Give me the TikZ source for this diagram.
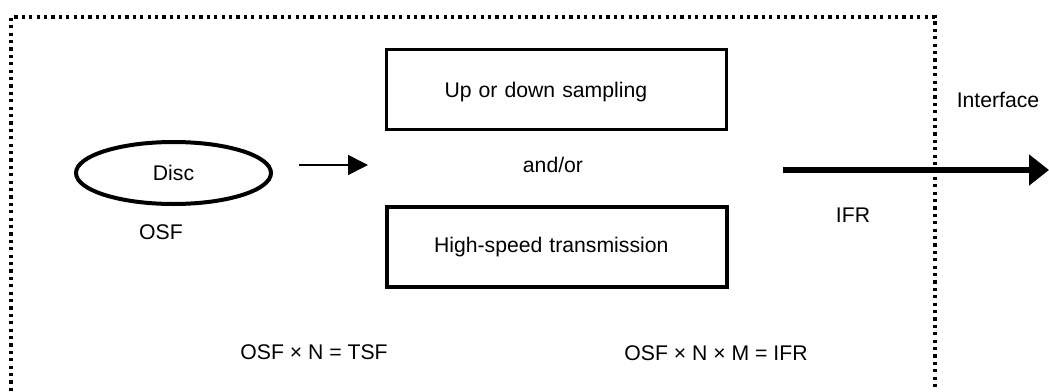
\documentclass[tikz,border=0pt]{standalone}
\usepackage{fontspec}
\setmainfont{Liberation Sans}
\usetikzlibrary{shapes.geometric,arrows.meta}
\begin{document}
\begin{tikzpicture}[x=0.5pt,y=-0.5pt,
  every node/.style={font=\fontsize{10.6pt}{12pt}\selectfont, inner sep=0pt},
  procbox/.style={draw, line width=1.7pt, minimum height=40pt, align=left},
  disc/.style={draw, ellipse, line width=2pt, minimum width=97.5pt, minimum height=31pt},
  dotbox/.style={line width=1.75pt, dash pattern=on 1.6pt off 2.1pt},
  thinarrow/.style={line width=0.8pt, -{Triangle[length=10pt,width=10pt]}},
  thickarrow/.style={line width=3.4pt, -{Triangle[length=10pt,width=15pt]}}]
\useasboundingbox (0,0) rectangle (1049,391);

% dotted frame (open at the bottom)
\draw[dotbox] (11,391) -- (11,17) -- (935,17) -- (935,391);

% disc
\node[disc] (disc) at (173.5,173) {Disc};
\node (osf) at (161,232) {OSF};

% small arrow
\coordinate (a1) at (299,165);
\coordinate (a2) at (368,165);
\draw[thinarrow] (a1) -- (a2);

% processing boxes
\node[procbox, inner xsep=29pt, text width=112pt, text depth=0pt] (updown) at (556.5,89.5) {Up or down sampling};
\node (andor) at (553,165) {and/or};
\node[procbox, inner xsep=23.5pt, text width=123pt] (hst) at (557,247) {High-speed transmission};

% output arrow
\coordinate (b1) at (783,170);
\coordinate (b2) at (1049,170);
\draw[thickarrow] (b1) -- (b2);
\node (ifr) at (853,215) {IFR};
\node (iface) at (998,100) {Interface};

% formulas
\node (f1) at (314,352) {OSF × N = TSF};
\node (f2) at (716,353) {OSF × N × M = IFR};
\end{tikzpicture}
\end{document}
